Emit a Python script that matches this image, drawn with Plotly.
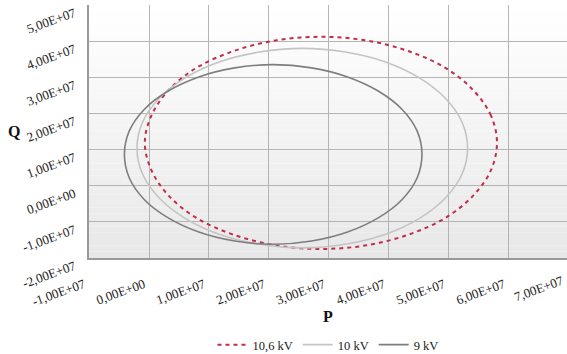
import plotly.graph_objects as go

SCALE = 1e7  # values below are in units of 1e7

# 10,6 kV curve (P, Q)
p_106 = [5.80, 5.70, 5.40, 4.94, 4.33, 3.62, 2.87, 2.11, 1.40, 0.79, 0.33, 0.04, -0.07,
         0.04, 0.33, 0.79, 1.40, 2.11, 2.87, 3.62, 4.33, 4.94, 5.40, 5.70, 5.80]
q_106 = [1.19, 1.94, 2.65, 3.26, 3.72, 4.02, 4.12, 4.02, 3.72, 3.26, 2.65, 1.94, 1.19,
         0.43, -0.28, -0.89, -1.35, -1.65, -1.75, -1.65, -1.35, -0.89, -0.28, 0.43, 1.19]
# 10 kV curve
p_10 = [5.31, 5.22, 4.94, 4.50, 3.93, 3.27, 2.56, 1.84, 1.18, 0.61, 0.17, -0.11, -0.20,
        -0.11, 0.17, 0.61, 1.18, 1.84, 2.56, 3.27, 3.93, 4.50, 4.94, 5.22, 5.31]
q_10 = [1.04, 1.75, 2.42, 2.99, 3.43, 3.70, 3.80, 3.70, 3.43, 2.99, 2.42, 1.75, 1.04,
        0.33, -0.34, -0.91, -1.35, -1.62, -1.72, -1.62, -1.35, -0.91, -0.34, 0.33, 1.04]
# 9 kV curve
p_9 = [4.55, 4.47, 4.22, 3.82, 3.31, 2.71, 2.07, 1.43, 0.83, 0.32, -0.08, -0.33, -0.41,
       -0.33, -0.08, 0.32, 0.83, 1.43, 2.07, 2.71, 3.31, 3.82, 4.22, 4.47, 4.55]
q_9 = [0.87, 1.51, 2.11, 2.62, 3.01, 3.26, 3.35, 3.26, 3.01, 2.62, 2.11, 1.51, 0.87,
       0.22, -0.38, -0.89, -1.28, -1.53, -1.62, -1.53, -1.28, -0.89, -0.38, 0.22, 0.87]

series_names = ["10,6 kV", "10 kV", "9 kV"]

x_tick_vals = [-1, 0, 1, 2, 3, 4, 5, 6]
x_tick_text = ["-1,00E+07", "0,00E+00", "1,00E+07", "2,00E+07", "3,00E+07",
               "4,00E+07", "5,00E+07", "6,00E+07"]
x_last_label = "7,00E+07"
y_tick_vals = [-2, -1, 0, 1, 2, 3, 4, 5]
y_tick_text = ["-2,00E+07", "-1,00E+07", "0,00E+00", "1,00E+07", "2,00E+07",
               "3,00E+07", "4,00E+07", "5,00E+07"]

FONT = "Liberation Serif"

fig = go.Figure()
fig.add_trace(go.Scatter(x=[v * SCALE for v in p_106], y=[v * SCALE for v in q_106],
                         mode="lines", name=series_names[0], line_shape="spline",
                         line=dict(color="#c22d4c", width=2, dash="4px,4px"),
                         hoverinfo="skip"))
fig.add_trace(go.Scatter(x=[v * SCALE for v in p_10], y=[v * SCALE for v in q_10],
                         mode="lines", name=series_names[1], line_shape="spline",
                         line=dict(color="#c4c4c4", width=1.6), hoverinfo="skip"))
fig.add_trace(go.Scatter(x=[v * SCALE for v in p_9], y=[v * SCALE for v in q_9],
                         mode="lines", name=series_names[2], line_shape="spline",
                         line=dict(color="#7e7e7e", width=1.6), hoverinfo="skip"))

# vertical background gradient (white at top -> light gray at bottom)
bands = []
N = 40
for i in range(N):
    t = i / (N - 1)
    v = int(round(232 + (255 - 232) * t))
    bands.append(dict(type="rect", xref="paper", yref="paper", x0=0, x1=1,
                      y0=i / N, y1=(i + 1) / N, fillcolor=f"rgb({v},{v},{v})",
                      line=dict(width=0), layer="below"))

fig.update_layout(
    width=567, height=354,
    margin=dict(l=89, r=0, t=5, b=96, autoexpand=False),
    paper_bgcolor="white", plot_bgcolor="white",
    font=dict(family=FONT, size=13, color="#1a1a1a"),
    shapes=bands,
    legend=dict(orientation="h", x=0.5, xanchor="center", y=(258 - 345) / 253,
                yanchor="middle",
                font=dict(family=FONT, size=12.5, color="#1a1a1a"),
                bgcolor="rgba(0,0,0,0)"),
    annotations=[
        dict(text="Q", xref="paper", yref="paper", x=0, y=0.5, xshift=-75,
             xanchor="center", yanchor="middle", showarrow=False,
             font=dict(family=FONT, size=16, weight="bold", color="#111")),
        dict(text="P", xref="paper", yref="paper", x=0.5, y=(258 - 316) / 253,
             xanchor="center", yanchor="middle", showarrow=False,
             font=dict(family=FONT, size=16, weight="bold", color="#111")),
        dict(text=x_last_label, xref="paper", yref="paper", x=(539 - 89) / 478,
             y=(258 - 288) / 253, xanchor="center", yanchor="middle", textangle=-20,
             showarrow=False, font=dict(family=FONT, size=13, color="#1a1a1a")),
    ],
)
fig.update_xaxes(range=[-1e7, 6.967e7], tickvals=[v * SCALE for v in x_tick_vals],
                 ticktext=x_tick_text, tickangle=-20, showgrid=True, gridcolor="#b4b4b4",
                 gridwidth=1, zeroline=False, showline=True, linecolor="#9a9a9a",
                 linewidth=2, ticks="", ticklabelstandoff=12, ticklabelshift=-5,
                 ticklabeloverflow="allow", automargin=False)
fig.update_yaxes(range=[-2e7, 5e7], tickvals=[v * SCALE for v in y_tick_vals],
                 ticktext=y_tick_text, tickangle=-20, showgrid=True, gridcolor="#b4b4b4",
                 gridwidth=1, zeroline=False, showline=True, linecolor="#9a9a9a",
                 linewidth=2, ticks="", ticklabelstandoff=10, ticklabelshift=7,
                 ticklabeloverflow="allow", automargin=False)

fig.write_html("out.html", config={"displayModeBar": False},
               post_script="document.body.style.margin='0px';document.body.style.overflow='hidden';")
